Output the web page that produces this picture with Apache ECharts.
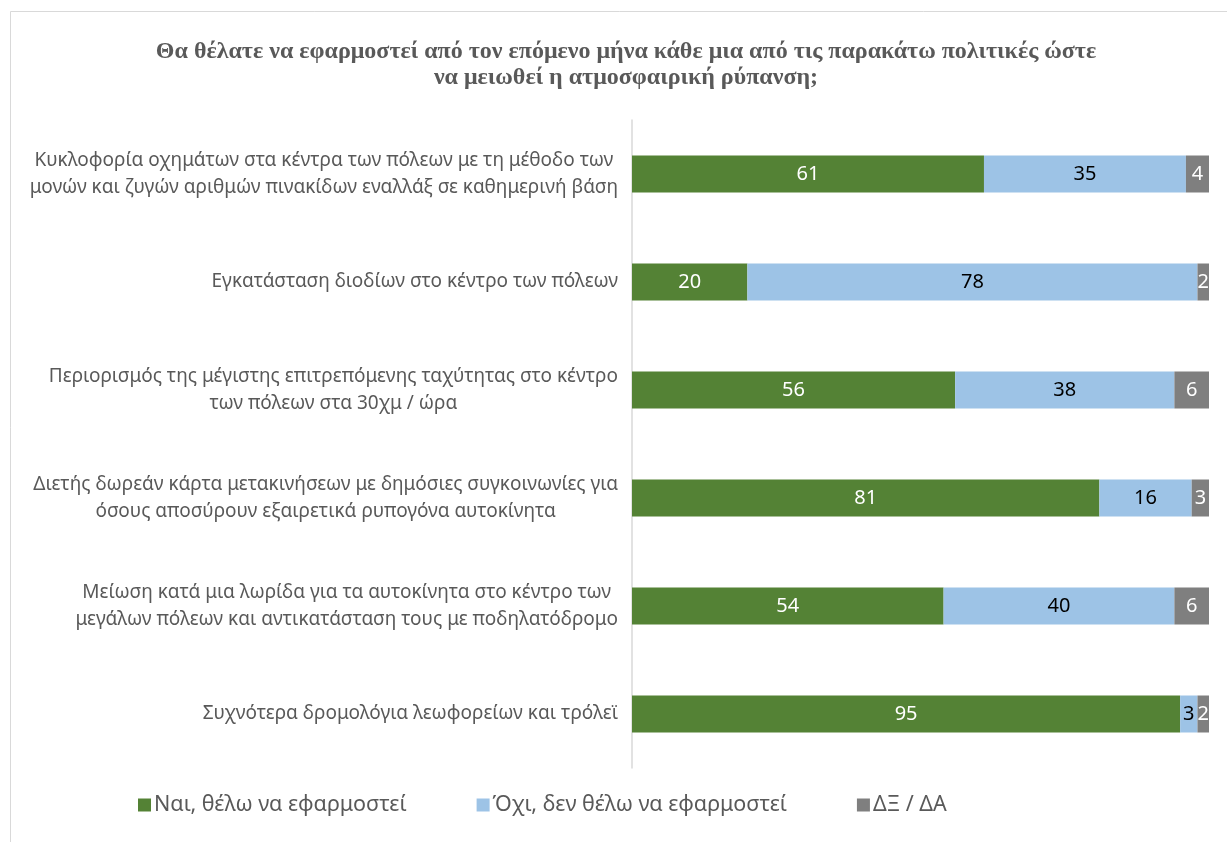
<!DOCTYPE html>
<html>
<head>
<meta charset="utf-8">
<script src="https://cdn.jsdelivr.net/npm/echarts@6/dist/echarts.min.js"></script>
<style>
  html, body { margin: 0; padding: 0; background: #ffffff; }
  #chart { width: 1227px; height: 842px; }
</style>
</head>
<body>
<div id="chart"></div>
<script>
// Policies (top to bottom)
const categories = [
  'Κυκλοφορία οχημάτων στα κέντρα των πόλεων με τη μέθοδο των\nμονών και ζυγών αριθμών πινακίδων εναλλάξ σε καθημερινή βάση',
  'Εγκατάσταση διοδίων στο κέντρο των πόλεων',
  'Περιορισμός της μέγιστης επιτρεπόμενης ταχύτητας στο κέντρο\nτων πόλεων στα 30χμ / ώρα',
  'Διετής δωρεάν κάρτα μετακινήσεων με δημόσιες συγκοινωνίες για\nόσους αποσύρουν εξαιρετικά ρυπογόνα αυτοκίνητα',
  'Μείωση κατά μια λωρίδα για τα αυτοκίνητα στο κέντρο των\nμεγάλων πόλεων και αντικατάσταση τους με ποδηλατόδρομο',
  'Συχνότερα δρομολόγια λεωφορείων και τρόλεϊ'
];
const seriesNames = ['Ναι, θέλω να εφαρμοστεί', 'Όχι, δεν θέλω να εφαρμοστεί', 'ΔΞ / ΔΑ'];
const yesValues = [61, 20, 56, 81, 54, 95];
const noValues = [35, 78, 38, 16, 40, 3];
const dkValues = [4, 2, 6, 3, 6, 2];

const colors = ['#548235', '#9DC3E6', '#7F7F7F'];
const labelColors = ['#ffffff', '#000000', '#ffffff'];
const TEXT = '#595959';
const FONT = 'Noto Sans';

function makeSeries(name, data, idx) {
  return {
    name: name,
    type: 'bar',
    stack: 'total',
    barWidth: 37,
    data: data,
    itemStyle: { color: colors[idx] },
    label: {
      show: true,
      position: 'inside',
      color: labelColors[idx],
      fontFamily: FONT,
      fontSize: 20
    },
    emphasis: { disabled: true }
  };
}

const chart = echarts.init(document.getElementById('chart'), null, { renderer: 'canvas' });
chart.setOption({
  animation: false,
  backgroundColor: '#ffffff',
  title: {
    text: 'Θα θέλατε να εφαρμοστεί από τον επόμενο μήνα κάθε μια από τις παρακάτω πολιτικές ώστε\nνα μειωθεί η ατμοσφαιρική ρύπανση;',
    left: 621,
    top: 34,
    textAlign: 'center',
    textStyle: {
      fontFamily: 'Liberation Serif',
      fontWeight: 'bold',
      fontSize: 24,
      color: TEXT,
      lineHeight: 26,
      align: 'center'
    }
  },
  graphic: [{
    type: 'rect',
    shape: { x: 10.5, y: 11.5, width: 1240, height: 860 },
    style: { fill: null, stroke: '#d9d9d9', lineWidth: 1 },
    silent: true,
    z: -1
  }],
  legend: {
    left: 133,
    top: 789,
    itemWidth: 13,
    itemHeight: 13,
    itemGap: 70,
    icon: 'rect',
    textStyle: { fontFamily: FONT, fontSize: 21.5, color: TEXT, padding: [0, 0, 0, -2] },
    data: seriesNames
  },
  grid: {
    left: 632,
    right: 18,
    top: 120,
    height: 648,
    containLabel: false
  },
  xAxis: {
    type: 'value',
    min: 0,
    max: 100,
    show: false
  },
  yAxis: {
    type: 'category',
    inverse: true,
    data: categories,
    axisLine: { show: true, lineStyle: { color: '#d9d9d9', width: 1.5 } },
    axisTick: { show: false },
    splitLine: { show: false },
    axisLabel: {
      margin: 14,
      align: 'right',
      formatter: function (v) {
        return v.split('\n').map(function (s) { return '{c|' + s + '}'; }).join('\n');
      },
      rich: {
        c: { align: 'center', fontFamily: FONT, fontSize: 19, color: TEXT, lineHeight: 27 }
      }
    }
  },
  series: [
    makeSeries(seriesNames[0], yesValues, 0),
    makeSeries(seriesNames[1], noValues, 1),
    makeSeries(seriesNames[2], dkValues, 2)
  ]
});
</script>
</body>
</html>
